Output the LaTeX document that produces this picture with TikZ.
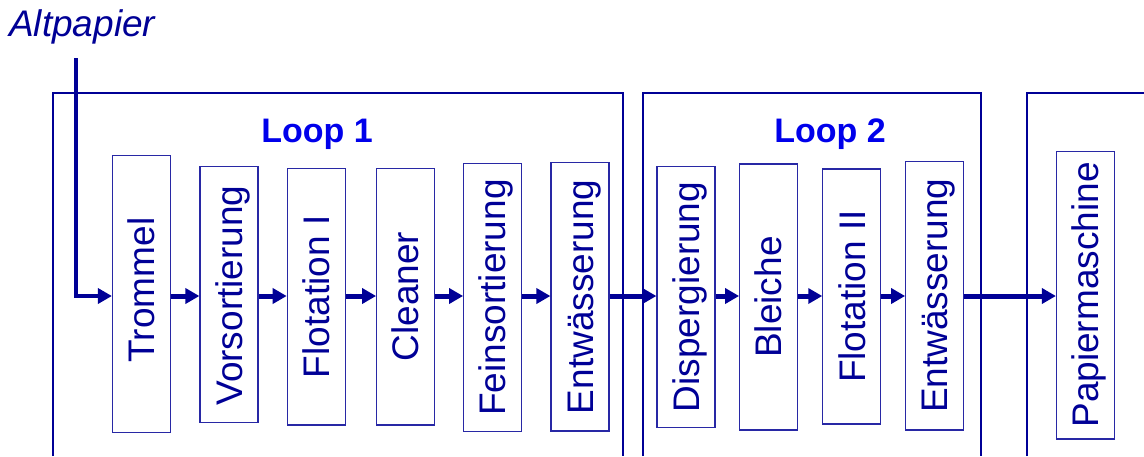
\documentclass[tikz,border=0pt]{standalone}
\usepackage{fontspec}
\setmainfont{Liberation Sans}
\usetikzlibrary{arrows.meta}
\definecolor{navy}{RGB}{0,0,150}
\definecolor{boxc}{RGB}{40,40,165}
\definecolor{loopc}{RGB}{0,0,235}
\tikzset{
  stage/.style={draw=boxc, line width=1.2pt, inner sep=0pt, minimum width=58pt},
  stagetext/.style={rotate=90, anchor=base, inner sep=0pt, text=navy, font=\fontsize{37}{40}\selectfont},
  looplabel/.style={anchor=base, inner sep=0pt, text=loopc, font=\bfseries\fontsize{34}{38}\selectfont},
  frame/.style={draw=navy, line width=1.3pt},
  flowarr/.style={draw=navy, line width=5pt, line join=miter, -{Triangle[length=14pt,width=15pt]}},
}
\begin{document}
\begin{tikzpicture}[x=1pt,y=-1pt]
\useasboundingbox (0,0) rectangle (1144,456);
% frames
\draw[frame] (53,456) |- (623,93) -- (623,456);
\draw[frame] (643,456) |- (981,93) -- (981,456);
\draw[frame] (1027,456) |- (1144,93);
% labels
\node[anchor=base west, inner sep=0pt, text=navy, font=\itshape\fontsize{37}{40}\selectfont] (alt) at (9,36) {Altpapier};
\node[looplabel] (l1) at (317,142) {Loop 1};
\node[looplabel] (l2) at (830,142) {Loop 2};
% stages
\node[stage, minimum height=277pt] (b1) at (141.5,294.2) {};
\node[stage, minimum height=255.6pt] (b2) at (229,294.5) {};
\node[stage, minimum height=256.3pt] (b3) at (316.3,296.85) {};
\node[stage, minimum height=256.7pt] (b4) at (405.7,296.65) {};
\node[stage, minimum height=268.4pt] (b5) at (492.7,297.5) {};
\node[stage, minimum height=268.3pt] (b6) at (580,296.85) {};
\node[stage, minimum height=260.6pt] (b7) at (686,297) {};
\node[stage, minimum height=266pt] (b8) at (768.7,297) {};
\node[stage, minimum height=255pt] (b9) at (851.85,296.5) {};
\node[stage, minimum height=268.7pt] (b10) at (934.7,295.65) {};
\node[stage, minimum height=287.3pt] (b11) at (1085.5,295.35) {};
% stage texts
\node[stagetext] (t1) at (154.7,290) {Trommel};
\node[stagetext] (t2) at (242.2,295.5) {Vorsortierung};
\node[stagetext] (t3) at (329.5,296.85) {Flotation I};
\node[stagetext] (t4) at (418.9,296.65) {Cleaner};
\node[stagetext] (t5) at (505.9,297.5) {Feinsortierung};
\node[stagetext] (t6) at (593.2,296.85) {Entwässerung};
\node[stagetext] (t7) at (699.2,297) {Dispergierung};
\node[stagetext] (t8) at (781.9,297) {Bleiche};
\node[stagetext] (t9) at (865,296.5) {Flotation II};
\node[stagetext] (t10) at (947.9,295.65) {Entwässerung};
\node[stagetext] (t11) at (1098.7,295) {Papiermaschine};
% flow
\coordinate (flow) at (0,296);
\coordinate (src) at (76,58);
\draw[flowarr, line width=4.5pt] (src) |- (b1.west |- flow);
\foreach \a/\b in {b1/b2,b2/b3,b3/b4,b4/b5,b5/b6,b6/b7,b7/b8,b8/b9,b9/b10,b10/b11}{
  \draw[flowarr] (\a.east |- flow) -- (\b.west |- flow);
}
\end{tikzpicture}
\end{document}
